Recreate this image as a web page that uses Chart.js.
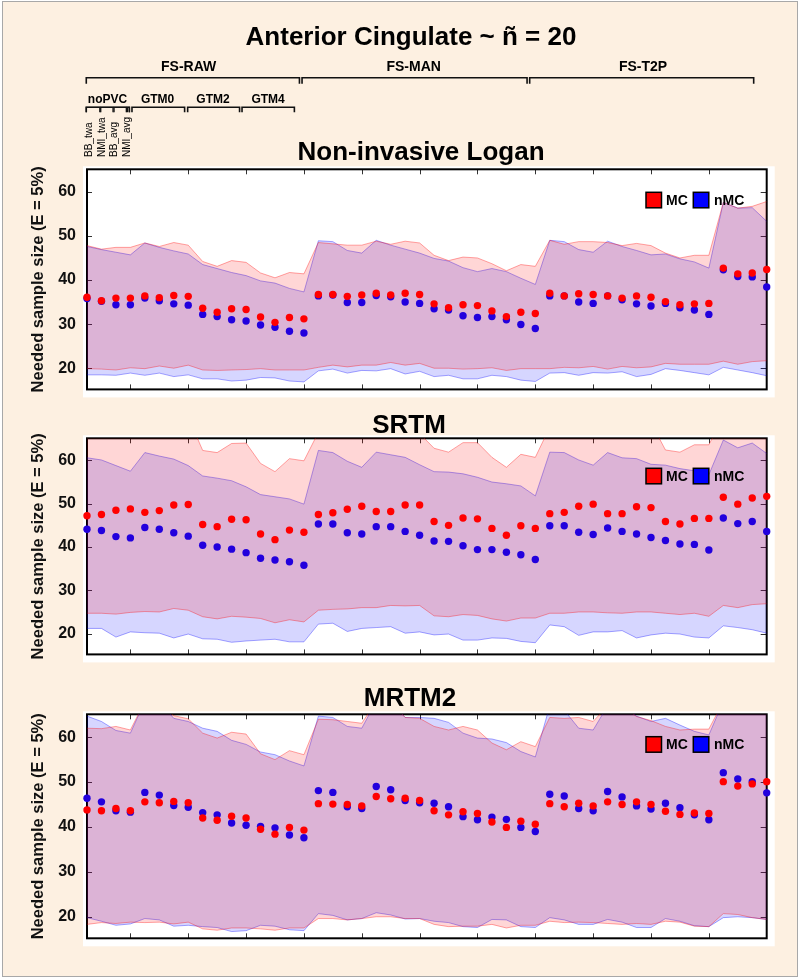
<!DOCTYPE html>
<html>
<head>
<meta charset="utf-8">
<title>Anterior Cingulate</title>
<script src="https://cdn.jsdelivr.net/npm/chart.js@4.4.1/dist/chart.umd.min.js"></script>
<style>
  body { margin: 0; background: #ffffff; }
  #frame {
    position: absolute; left: 2px; top: 1px; width: 794px; height: 974px;
    background: #fdf0e1; border: 1px solid #a8a8a8;
  }
  canvas { position: absolute; left: 0; }
  #c1 { top: 0; }
  #c2 { top: 410px; }
  #c3 { top: 675px; }
</style>
</head>
<body>
<div id="frame"></div>
<canvas id="c1" width="800" height="410"></canvas>
<canvas id="c2" width="800" height="265"></canvas>
<canvas id="c3" width="800" height="300"></canvas>

<script>
// x positions of the 48 method combinations
const POS = [1, 2, 3, 4, 5, 6, 7, 8, 9, 10, 11, 12, 13, 14, 15, 16,
    17, 18, 19, 20, 21, 22, 23, 24, 25, 26, 27, 28, 29, 30, 31, 32,
    33, 34, 35, 36, 37, 38, 39, 40, 41, 42, 43, 44, 45, 46, 47, 48];
const X_TICKS = [4, 8, 12, 16, 20, 24, 28, 32, 36, 40, 44];
const Y_TICKS = [20, 30, 40, 50, 60];

const METHODS = ["FS-RAW", "FS-MAN", "FS-T2P"];
const PVC = ["noPVC", "GTM0", "GTM2", "GTM4"];
const NOPVC_ITEMS = ["BB_twa", "NMI_twa", "BB_avg", "NMI_avg"];

// Non-invasive Logan
const NIL_MC = [36.1, 35.3, 35.9, 35.9, 36.4, 36.0, 36.5, 36.3, 33.6, 32.7, 33.5, 33.3, 31.6, 30.4, 31.5, 31.2,
    36.7, 36.7, 36.3, 36.6, 37.0, 36.6, 37.0, 36.7, 34.6, 33.7, 34.4, 34.2, 33.0, 31.7, 32.7, 32.4,
    37.0, 36.4, 36.9, 36.7, 36.4, 35.9, 36.4, 36.1, 35.1, 34.4, 34.6, 34.7, 42.7, 41.4, 41.6, 42.4];
const NIL_NMC = [35.8, 35.2, 34.4, 34.4, 35.9, 35.3, 34.6, 34.3, 32.2, 31.7, 31.0, 30.7, 29.8, 29.3, 28.4, 28.0,
    36.4, 36.6, 34.9, 34.9, 36.5, 36.2, 35.0, 34.7, 33.5, 33.2, 31.9, 31.5, 31.7, 31.0, 29.9, 29.0,
    36.4, 36.4, 35.0, 34.7, 36.4, 35.5, 34.6, 34.1, 34.7, 33.7, 33.2, 32.2, 42.3, 40.8, 40.7, 38.4];
const NIL_MC_HI = [47.8, 47.0, 47.4, 47.4, 48.4, 47.6, 48.5, 47.9, 44.2, 43.1, 44.4, 44.0, 41.6, 40.5, 41.7, 41.4,
    48.5, 48.2, 47.9, 47.9, 48.8, 48.1, 48.8, 48.4, 45.6, 44.4, 45.2, 45.0, 43.7, 42.1, 43.5, 43.1,
    49.0, 48.1, 48.7, 48.7, 48.5, 47.8, 48.3, 47.8, 46.1, 45.0, 45.6, 45.6, 57.6, 56.3, 56.7, 57.8];
const NIL_MC_LO = [19.9, 19.8, 19.6, 20.1, 19.9, 20.5, 20.0, 20.7, 19.6, 19.5, 19.6, 19.7, 19.9, 19.6, 19.6, 19.6,
    20.2, 20.7, 20.3, 20.7, 20.7, 21.3, 20.7, 21.1, 20.0, 20.0, 19.8, 19.9, 20.1, 19.5, 19.9, 19.9,
    19.9, 20.2, 20.1, 20.4, 19.8, 20.4, 20.1, 20.3, 21.1, 20.9, 20.9, 20.9, 21.6, 20.9, 21.5, 21.7];
const NIL_NMC_HI = [47.6, 46.9, 46.3, 45.7, 48.4, 47.4, 46.6, 45.9, 43.5, 42.6, 41.7, 41.0, 39.8, 39.3, 38.1, 37.3,
    48.9, 48.7, 46.7, 46.1, 49.0, 47.9, 47.0, 46.1, 44.9, 44.3, 42.8, 41.9, 42.6, 41.9, 40.4, 39.0,
    49.0, 48.7, 46.9, 46.3, 48.8, 47.6, 46.7, 45.7, 45.9, 44.8, 44.1, 42.7, 57.6, 56.3, 56.4, 53.3];
const NIL_NMC_LO = [18.5, 18.5, 18.4, 18.9, 18.4, 18.9, 18.1, 18.5, 17.6, 17.6, 17.1, 17.3, 17.9, 17.8, 17.1, 16.9,
    19.4, 19.8, 18.9, 19.5, 19.4, 19.9, 18.7, 19.3, 18.1, 18.4, 17.6, 17.6, 18.4, 18.1, 17.3, 17.0,
    18.9, 19.0, 18.4, 19.0, 18.9, 19.2, 18.1, 18.6, 19.9, 19.5, 19.0, 18.5, 20.2, 19.6, 19.0, 18.3];

// SRTM
const SRTM_MC = [47.2, 47.5, 48.5, 48.8, 48.0, 48.4, 49.7, 49.8, 45.2, 44.7, 46.4, 46.3, 43.0, 41.7, 43.9, 43.4,
    47.5, 47.9, 48.7, 49.4, 48.2, 48.2, 49.7, 49.7, 45.9, 45.0, 46.7, 46.5, 44.3, 42.7, 44.9, 44.3,
    47.7, 48.0, 49.4, 49.9, 47.7, 47.7, 49.3, 49.1, 45.9, 45.3, 46.6, 46.6, 51.5, 49.9, 51.3, 51.7];
const SRTM_NMC = [44.1, 43.8, 42.4, 42.1, 44.5, 44.1, 43.3, 42.5, 40.4, 40.0, 39.5, 38.7, 37.4, 37.0, 36.6, 35.8,
    45.3, 45.3, 43.3, 43.0, 44.7, 44.7, 43.6, 42.7, 41.4, 41.3, 40.3, 39.4, 39.4, 38.8, 38.2, 37.1,
    44.9, 44.9, 43.4, 42.9, 44.4, 43.6, 43.0, 42.2, 41.5, 40.7, 40.6, 39.3, 46.7, 45.4, 45.9, 43.6];
const SRTM_MC_HI = [68, 68, 68, 68, 69, 69, 69, 70, 62.3, 61.8, 63.9, 64.0, 59.3, 57.4, 60.4, 59.9,
    66.5, 67, 68, 68, 68, 68, 67, 66.2, 62.8, 61.9, 64.1, 64.1, 60.7, 58.4, 61.4, 60.7,
    67.7, 68, 68, 68, 68, 68, 68, 68.7, 62.4, 61.9, 63.6, 63.6, 70, 70, 70, 70];
const SRTM_MC_LO = [24.7, 24.7, 24.5, 24.9, 25.1, 25.0, 25.8, 25.4, 23.9, 23.4, 24.0, 23.8, 23.5, 22.5, 23.2, 22.7,
    25.4, 25.6, 25.7, 26.0, 26.0, 26.5, 26.4, 26.5, 24.1, 23.9, 24.4, 24.2, 23.4, 22.9, 23.6, 23.6,
    24.7, 24.7, 25.0, 25.0, 24.8, 24.7, 25.0, 25.0, 24.7, 24.4, 24.7, 24.0, 26.5, 26.0, 26.7, 26.9];
const SRTM_NMC_HI = [60.6, 60.1, 58.8, 57.5, 61.8, 61.0, 60.3, 58.8, 56.4, 55.9, 55.3, 53.9, 52.1, 51.6, 51.1, 49.9,
    62.3, 61.8, 59.8, 58.4, 61.9, 61.3, 60.7, 59.0, 57.4, 57.3, 56.9, 56.1, 55.0, 54.6, 54.1, 51.8,
    61.9, 61.8, 60.1, 58.9, 61.8, 60.6, 60.4, 59.1, 58.9, 58.1, 57.6, 56.7, 64.7, 62.9, 64.0, 61.6];
const SRTM_NMC_LO = [21.2, 21.2, 19.2, 20.4, 20.2, 20.1, 19.0, 19.9, 18.8, 18.7, 18.0, 18.3, 18.5, 18.7, 18.1, 18.1,
    22.2, 22.4, 20.5, 21.2, 21.4, 21.6, 20.1, 20.4, 19.7, 19.9, 18.5, 18.5, 19.0, 18.9, 18.2, 17.9,
    22.0, 21.6, 19.6, 20.4, 20.4, 20.7, 19.0, 19.7, 20.1, 19.9, 19.2, 19.0, 21.8, 21.4, 20.9, 20.1];

// MRTM2
const MRTM2_MC = [43.8, 43.6, 44.1, 43.6, 45.6, 45.4, 45.7, 45.4, 42.0, 41.5, 42.4, 42.0, 39.5, 38.4, 39.9, 39.3,
    45.2, 45.1, 45.0, 44.7, 46.8, 46.3, 46.4, 45.9, 43.6, 42.7, 43.4, 43.0, 41.1, 39.9, 41.3, 40.6,
    45.2, 44.5, 45.3, 44.7, 45.6, 45.0, 45.6, 45.0, 43.5, 42.8, 43.1, 43.0, 50.1, 49.1, 49.6, 50.1];
const MRTM2_NMC = [46.4, 45.6, 43.6, 43.3, 47.7, 47.1, 44.8, 44.4, 43.2, 42.7, 40.9, 40.4, 40.1, 39.8, 38.2, 37.6,
    48.1, 47.7, 44.5, 44.1, 49.0, 48.3, 45.9, 45.4, 45.3, 44.5, 42.3, 41.6, 42.2, 41.7, 39.9, 39.0,
    47.3, 46.9, 44.1, 43.6, 47.9, 46.7, 44.7, 44.0, 45.3, 44.3, 42.7, 41.6, 52.1, 50.7, 50.1, 47.6];
const MRTM2_MC_HI = [62.0, 61.9, 62.4, 61.6, 68, 68, 64.8, 64.1, 60.9, 59.8, 61.1, 60.7, 56.3, 55.0, 57.0, 56.1,
    64.0, 63.9, 63.5, 63.1, 68, 68, 64.4, 64.2, 62.4, 61.6, 62.4, 61.6, 58.7, 57.2, 59.0, 57.9,
    64.4, 64.2, 64.4, 63.5, 67, 67, 64.6, 63.7, 62.4, 61.6, 61.8, 61.8, 68, 68, 68, 68];
const MRTM2_MC_LO = [18.3, 18.7, 18.5, 18.8, 18.7, 18.8, 18.4, 18.8, 17.3, 17.0, 17.5, 17.5, 17.3, 17.0, 17.5, 17.5,
    19.6, 19.6, 19.3, 19.6, 20.0, 20.0, 19.6, 19.6, 18.3, 17.8, 17.9, 17.9, 18.3, 17.5, 18.1, 18.1,
    19.0, 18.7, 18.8, 18.7, 18.5, 18.3, 18.5, 18.3, 19.0, 18.8, 17.9, 17.8, 20.7, 20.5, 19.8, 19.4];
const MRTM2_NMC_HI = [64.7, 63.5, 61.5, 60.9, 68, 68, 64.2, 63.5, 62.0, 61.3, 59.3, 58.4, 56.7, 56.1, 54.7, 53.6,
    64.7, 64.4, 62.4, 62.0, 68, 68, 64.4, 64.4, 64.2, 63.3, 60.9, 59.8, 59.6, 58.8, 56.8, 55.6,
    67, 66, 62.0, 61.6, 67, 67, 64.7, 63.5, 64.2, 62.7, 61.3, 60.5, 68, 68, 68, 68];
const MRTM2_NMC_LO = [19.8, 19.0, 18.1, 18.4, 19.6, 19.3, 17.9, 18.1, 17.8, 17.6, 16.7, 16.9, 18.1, 17.9, 17.1, 16.9,
    20.7, 20.3, 19.3, 19.6, 20.9, 20.4, 19.5, 19.6, 19.0, 18.7, 17.8, 17.6, 19.4, 19.3, 17.8, 17.6,
    19.8, 19.3, 18.3, 18.3, 19.4, 18.8, 17.6, 17.6, 19.6, 19.0, 18.0, 17.8, 19.8, 20.0, 19.8, 19.4];

const FONT = "'Liberation Sans', Arial, sans-serif";
const RED = "#ff0000";
const BLUE = "#2200dd";
const RED_LINE = "rgba(255, 0, 0, 0.35)";
const BLUE_LINE = "rgba(0, 0, 255, 0.35)";
const RED_FILL = "rgba(255, 0, 0, 0.16)";
const BLUE_FILL = "rgba(0, 0, 255, 0.16)";

function toXY(values) {
    return values.map((v, i) => ({ x: POS[i], y: v }));
}

// white plot background, frame, inward ticks, panel title and legend
const panelDecor = {
    id: "panelDecor",
    beforeDatasetsDraw(chart, args, opts) {
        const { ctx, chartArea: a, scales } = chart;
        ctx.save();
        ctx.fillStyle = "#ffffff";
        ctx.fillRect(a.left - 4, a.top - 3, a.right - a.left + 12, a.bottom - a.top + 11);

        ctx.strokeStyle = "#333333";
        ctx.lineWidth = 1;
        ctx.beginPath();
        X_TICKS.forEach((t) => {
            const x = Math.round(scales.x.getPixelForValue(t)) + 0.5;
            ctx.moveTo(x, a.top);
            ctx.lineTo(x, a.top + 5);
            ctx.moveTo(x, a.bottom);
            ctx.lineTo(x, a.bottom - 5);
        });
        Y_TICKS.forEach((t) => {
            const y = Math.round(scales.y.getPixelForValue(t)) + 0.5;
            ctx.moveTo(a.left, y);
            ctx.lineTo(a.left + 5, y);
            ctx.moveTo(a.right, y);
            ctx.lineTo(a.right - 6, y);
        });
        ctx.stroke();

        ctx.strokeStyle = "#000000";
        ctx.lineWidth = 2;
        ctx.strokeRect(a.left, a.top, a.right - a.left, a.bottom - a.top);
        ctx.restore();
    },
    afterDraw(chart, args, opts) {
        const { ctx, chartArea: a } = chart;
        ctx.save();
        ctx.fillStyle = "#000000";
        ctx.font = "bold 26px " + FONT;
        ctx.textAlign = "center";
        ctx.textBaseline = "alphabetic";
        ctx.fillText(opts.title, opts.titleX, opts.titleY);

        // legend
        const bx = a.right - 120.7;
        const by = a.top + opts.legendTop;
        const s = 15.5;
        ctx.lineWidth = 1.5;
        ctx.strokeStyle = "#000000";
        ctx.fillStyle = RED;
        ctx.fillRect(bx, by, s, s);
        ctx.strokeRect(bx, by, s, s);
        ctx.fillStyle = "#0000ff";
        ctx.fillRect(bx + 47.3, by, s, s);
        ctx.strokeRect(bx + 47.3, by, s, s);
        ctx.fillStyle = "#000000";
        ctx.font = "bold 14px " + FONT;
        ctx.textAlign = "left";
        ctx.textBaseline = "middle";
        ctx.fillText("MC", bx + 20, by + s / 2 + 1);
        ctx.fillText("nMC", bx + 68, by + s / 2 + 1);
        ctx.restore();
    },
};

// figure title and method brackets above the first panel
const header = {
    id: "header",
    afterDraw(chart) {
        const { ctx } = chart;
        const px = (v) => chart.scales.x.getPixelForValue(v);
        ctx.save();
        ctx.fillStyle = "#000000";
        ctx.strokeStyle = "#111111";
        ctx.textAlign = "center";
        ctx.textBaseline = "alphabetic";
        ctx.font = "bold 26px " + FONT;
        ctx.fillText("Anterior Cingulate ~ ñ = 20", 411, 44.5);

        function bracket(x0, x1, y, h) {
            ctx.beginPath();
            ctx.moveTo(x0, y + h);
            ctx.lineTo(x0, y);
            ctx.lineTo(x1, y);
            ctx.lineTo(x1, y + h);
            ctx.stroke();
        }

        const methodSpans = [[0.95, 15.69], [15.87, 31.43], [31.61, 47.1]];
        const methodLabelX = [8.03, 23.59, 39.45];
        ctx.lineWidth = 1.6;
        ctx.font = "bold 14px " + FONT;
        METHODS.forEach((m, i) => {
            bracket(px(methodSpans[i][0]), px(methodSpans[i][1]), 77.7, 6);
            ctx.fillText(m, px(methodLabelX[i]), 71);
        });

        const pvcSpans = [[0.95, 3.93], [4.11, 7.75], [7.96, 11.55], [11.72, 15.34]];
        const pvcLabelX = [2.42, 5.88, 9.71, 13.52];
        ctx.font = "bold 12px " + FONT;
        PVC.forEach((p, i) => {
            bracket(px(pvcSpans[i][0]), px(pvcSpans[i][1]), 107.3, 5);
            ctx.fillText(p, px(pvcLabelX[i]), 102.5);
        });

        const itemSpans = [[0.95, 1.885], [1.95, 2.8], [2.87, 3.72], [3.79, 3.93]];
        const itemX = [1.16, 2.04, 2.91, 3.77];
        ctx.lineWidth = 1.3;
        ctx.font = "10px " + FONT;
        ctx.textAlign = "left";
        ctx.textBaseline = "middle";
        NOPVC_ITEMS.forEach((it, i) => {
            bracket(px(itemSpans[i][0]), px(itemSpans[i][1]), 107.3, 5);
            ctx.save();
            ctx.translate(px(itemX[i]), 157);
            ctx.rotate(-Math.PI / 2);
            ctx.fillText(it, 0, 0);
            ctx.restore();
        });
        ctx.restore();
    },
};

function makePanel(id, cfg) {
    const plugins = [panelDecor];
    if (cfg.header) plugins.push(header);
    return new Chart(document.getElementById(id), {
        type: "line",
        data: {
            datasets: [
                {
                    label: "MC",
                    data: toXY(cfg.mc),
                    showLine: false,
                    pointRadius: 3.7,
                    pointBorderWidth: 0,
                    pointBackgroundColor: RED,
                    borderColor: RED,
                    clip: false,
                    order: 0,
                },
                {
                    label: "nMC",
                    data: toXY(cfg.nmc),
                    showLine: false,
                    pointRadius: 3.7,
                    pointBorderWidth: 0,
                    pointBackgroundColor: BLUE,
                    borderColor: BLUE,
                    clip: false,
                    order: 1,
                },
                {
                    label: "MC upper",
                    data: toXY(cfg.mcHi),
                    borderColor: RED_LINE,
                    backgroundColor: RED_FILL,
                    borderWidth: 1,
                    pointRadius: 0,
                    fill: "+1",
                    order: 2,
                },
                {
                    label: "MC lower",
                    data: toXY(cfg.mcLo),
                    borderColor: RED_LINE,
                    borderWidth: 1,
                    pointRadius: 0,
                    fill: false,
                    order: 2,
                },
                {
                    label: "nMC upper",
                    data: toXY(cfg.nmcHi),
                    borderColor: BLUE_LINE,
                    backgroundColor: BLUE_FILL,
                    borderWidth: 1,
                    pointRadius: 0,
                    fill: "+1",
                    order: 3,
                },
                {
                    label: "nMC lower",
                    data: toXY(cfg.nmcLo),
                    borderColor: BLUE_LINE,
                    borderWidth: 1,
                    pointRadius: 0,
                    fill: false,
                    order: 3,
                },
            ],
        },
        options: {
            responsive: false,
            animation: false,
            events: [],
            layout: {
                padding: { top: cfg.padTop, bottom: cfg.padBottom, left: 0, right: 33.3 },
            },
            plugins: {
                legend: { display: false },
                tooltip: { enabled: false },
                panelDecor: {
                    title: cfg.title,
                    titleX: cfg.titleX,
                    titleY: cfg.titleY,
                    legendTop: cfg.legendTop,
                },
            },
            scales: {
                x: { type: "linear", min: 1, max: 48, display: false },
                y: {
                    min: 15.2,
                    max: 65.1,
                    afterFit: function (scale) {
                        scale.width = 87;
                    },
                    afterBuildTicks: function (scale) {
                        scale.ticks = Y_TICKS.map((v) => ({ value: v }));
                    },
                    grid: { display: false, drawTicks: false },
                    border: { display: false },
                    ticks: {
                        padding: 11,
                        color: "#111111",
                        font: { family: FONT, size: 16, weight: "bold" },
                    },
                    title: {
                        display: true,
                        text: "Needed sample size (E = 5%)",
                        color: "#111111",
                        font: { family: FONT, size: 16.5, weight: "bold" },
                        padding: { top: 29, bottom: 0 },
                    },
                },
            },
        },
        plugins: plugins,
    });
}

makePanel("c1", {
    mc: NIL_MC, nmc: NIL_NMC, mcHi: NIL_MC_HI, mcLo: NIL_MC_LO, nmcHi: NIL_NMC_HI, nmcLo: NIL_NMC_LO,
    title: "Non-invasive Logan", titleX: 421, titleY: 159.5, legendTop: 23,
    padTop: 169.3, padBottom: 16.7, header: true,
});
makePanel("c2", {
    mc: SRTM_MC, nmc: SRTM_NMC, mcHi: SRTM_MC_HI, mcLo: SRTM_MC_LO, nmcHi: SRTM_NMC_HI, nmcLo: SRTM_NMC_LO,
    title: "SRTM", titleX: 409, titleY: 22.7, legendTop: 30,
    padTop: 28.3, padBottom: 12.7,
});
makePanel("c3", {
    mc: MRTM2_MC, nmc: MRTM2_NMC, mcHi: MRTM2_MC_HI, mcLo: MRTM2_MC_LO, nmcHi: MRTM2_NMC_HI, nmcLo: MRTM2_NMC_LO,
    title: "MRTM2", titleX: 410, titleY: 31, legendTop: 22.4,
    padTop: 39.3, padBottom: 36.7,
});
</script>
</body>
</html>
